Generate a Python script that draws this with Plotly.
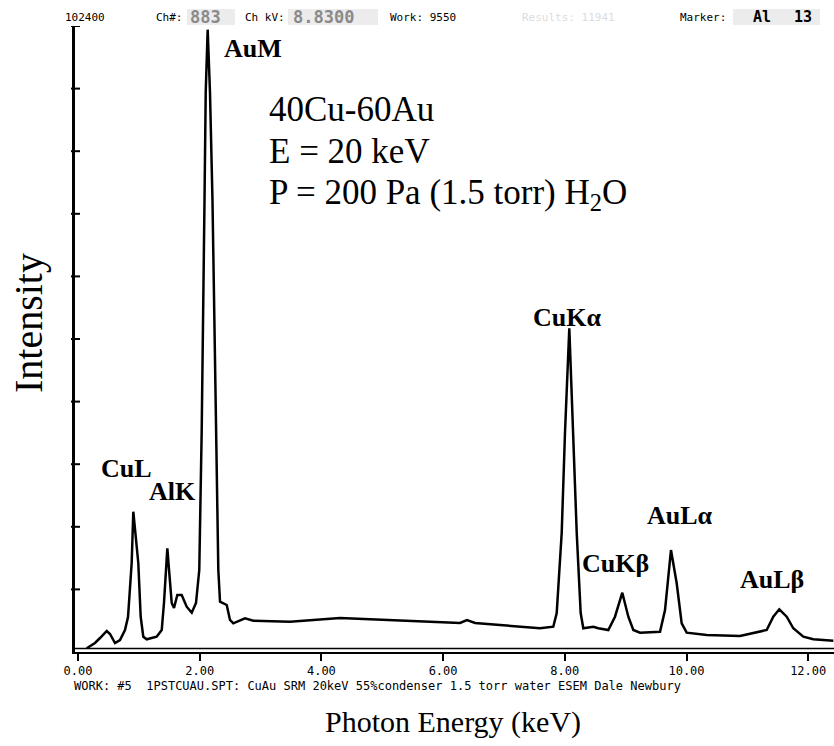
import plotly.graph_objects as go

# EDS spectrum of a 40Cu-60Au alloy: photon energy (keV) and counts
energy_kev = [
    0.143, 0.279, 0.362, 0.472, 0.526, 0.608, 0.690, 0.772, 0.822, 0.882,
    0.909, 0.991, 1.030, 1.073, 1.129, 1.293, 1.376, 1.413, 1.468, 1.500,
    1.540, 1.578, 1.632, 1.704, 1.786, 1.869, 1.939, 1.993, 2.033, 2.079,
    2.099, 2.131, 2.169, 2.210, 2.268, 2.306, 2.334, 2.378, 2.444, 2.498,
    2.552, 2.744, 2.881, 3.484, 4.306, 5.291, 5.949, 6.278, 6.393, 6.525,
    6.936, 7.593, 7.811, 7.867, 7.949, 8.003, 8.074, 8.140, 8.196, 8.261,
    8.304, 8.468, 8.550, 8.715, 8.825, 8.945, 9.044, 9.126, 9.236, 9.565,
    9.647, 9.745, 9.839, 9.921, 10.003, 10.332, 10.879, 11.318, 11.426, 11.525,
    11.647, 11.755, 11.920, 12.084, 12.413,
]
counts = [
    605, 1472, 2290, 3435, 2944, 1472, 1963, 3599, 5725, 14559,
    22950, 14559, 5774, 2503, 2077, 2503, 3599, 8015, 16963, 13414,
    8015, 7198, 9324, 9324, 7410, 6429, 8015, 13414, 36315, 73938,
    91605, 101800, 91605, 73938, 36315, 13414, 8228, 8015, 7688, 5235,
    4695, 5513, 5120, 4956, 5562, 5153, 4907, 4744, 5235, 4744,
    4417, 3877, 4139, 6380, 19466, 35824, 52952, 35824, 19466, 6380,
    3877, 4139, 3877, 3599, 5774, 9700, 5774, 3599, 3157, 3321,
    6870, 16685, 11238, 4695, 3157, 2781, 2617, 3599, 5774, 6985,
    5774, 3877, 2503, 2077, 1848,
]

# Peak labels: text, energy, counts position
peak_labels = ["CuL", "AlK", "AuM", "CuKα", "CuKβ", "AuLα", "AuLβ"]
peak_label_x = [0.805, 1.561, 2.876, 8.036, 8.825, 9.893, 11.404]
peak_label_y = [30099, 26336, 98802, 54636, 14559, 22410, 11941]

x_tick_vals = [0, 2, 4, 6, 8, 10, 12]
x_tick_text = ["0.00", "2.00", "4.00", "6.00", "8.00", "10.00", "12.00"]
full_scale = 102400
y_tick_step = 10240

W, H = 834, 746
L, R, T, B = 75, 0, 26, 94
PW, PH = W - L - R, H - T - B


def px(xp):
    return (xp - L) / PW


def py(yp):
    return (H - B - yp) / PH


fig = go.Figure()
fig.add_trace(go.Scatter(
    x=energy_kev, y=counts, mode="lines",
    line=dict(color="black", width=2.5), hoverinfo="skip", showlegend=False,
))

serif = "Liberation Serif, Times New Roman, serif"
mono = "DejaVu Sans Mono, monospace"

annotations = []
for t, xv, yv in zip(peak_labels, peak_label_x, peak_label_y):
    annotations.append(dict(
        x=xv, y=yv, xref="x", yref="y", text=f"<b>{t}</b>", showarrow=False,
        xanchor="center", yanchor="middle",
        font=dict(family=serif, size=26, color="black"),
    ))

# Sample description block
for yp, line in zip([109, 151, 194],
                    ["40Cu-60Au", "E = 20 keV", "P = 200 Pa (1.5 torr) H<sub>2</sub>O"]):
    annotations.append(dict(
        x=px(267), y=py(yp), xref="paper", yref="paper", text=line,
        showarrow=False, xanchor="left", yanchor="middle",
        font=dict(family=serif, size=35, color="black"),
    ))

# Axis titles
annotations.append(dict(
    x=px(453), y=py(722), xref="paper", yref="paper", text="Photon Energy (keV)",
    showarrow=False, xanchor="center", yanchor="middle",
    font=dict(family=serif, size=30, color="black"),
))
annotations.append(dict(
    x=px(28), y=py(323), xref="paper", yref="paper", text="Intensity",
    showarrow=False, textangle=-90, xanchor="center", yanchor="middle",
    font=dict(family=serif, size=40, color="black"),
))

# Instrument header row (left edge, text, colour, size, bold)
header = [
    (63, "102400", "black", 11, False),
    (154, "Ch#:", "black", 11, False),
    (188, "883", "#8a8a8a", 17, True),
    (243, "Ch kV:", "black", 11, False),
    (291, "8.8300", "#8a8a8a", 17, True),
    (388, "Work: 9550", "black", 11, False),
    (520, "Results: 11941", "#dcdcdc", 11, False),
    (678, "Marker:", "black", 11, False),
    (751, "Al", "black", 15, True),
    (792, "13", "black", 15, True),
]
for xp, t, c, s, b in header:
    annotations.append(dict(
        x=px(xp), y=py(17), xref="paper", yref="paper",
        text=f"<b>{t}</b>" if b else t, showarrow=False,
        xanchor="left", yanchor="middle",
        font=dict(family=mono, size=s, color=c),
    ))

# Footer line
annotations.append(dict(
    x=px(72), y=py(686), xref="paper", yref="paper", xanchor="left", yanchor="middle",
    text="WORK: #5  1PSTCUAU.SPT: CuAu SRM 20keV 55%condenser 1.5 torr water ESEM Dale Newbury",
    showarrow=False, font=dict(family=mono, size=12, color="black"),
))

shapes = []
# grey value boxes in header
for x0, x1 in [(187, 235), (288, 378), (733, 820)]:
    shapes.append(dict(type="rect", xref="paper", yref="paper",
                       x0=px(x0), x1=px(x1), y0=py(25), y1=py(9),
                       fillcolor="#ececec", line=dict(width=0), layer="below"))
# second line of the double baseline
shapes.append(dict(type="line", xref="paper", yref="paper",
                   x0=0, x1=1, y0=py(648.5), y1=py(648.5),
                   line=dict(color="black", width=1.5)))
# y-axis ticks crossing the axis line
for k in range(1, full_scale // y_tick_step + 1):
    shapes.append(dict(type="line", xref="paper", yref="y",
                       x0=px(71), x1=px(80), y0=k * y_tick_step, y1=k * y_tick_step,
                       line=dict(color="black", width=2)))

fig.update_layout(
    width=W, height=H,
    margin=dict(l=L, r=R, t=T, b=B, pad=0),
    paper_bgcolor="white", plot_bgcolor="white",
    annotations=annotations, shapes=shapes,
    xaxis=dict(
        range=[(L - 78) / 60.85, (W - 78) / 60.85],
        tickvals=x_tick_vals, ticktext=x_tick_text,
        ticks="outside", ticklen=7, tickwidth=2, tickcolor="black",
        showline=True, linecolor="black", linewidth=2,
        showgrid=False, zeroline=False,
        tickfont=dict(family=mono, size=12, color="black"),
    ),
    yaxis=dict(
        range=[0, full_scale], showticklabels=False, ticks="",
        showline=True, linecolor="black", linewidth=2.5,
        showgrid=False, zeroline=False,
    ),
)

fig.write_html("out.html")
